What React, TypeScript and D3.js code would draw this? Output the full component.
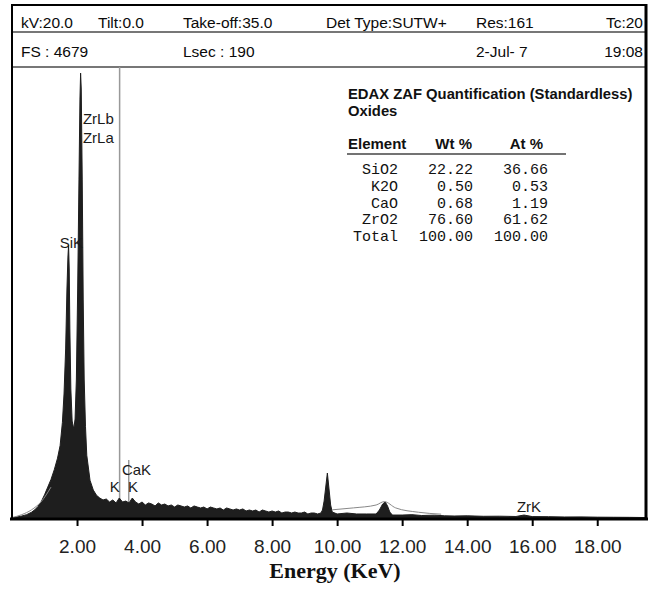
import * as d3 from "d3";
import React, { useEffect, useRef } from "react";

// Header rows of the EDAX printout
const headerRow1 = ["kV:20.0", "Tilt:0.0", "Take-off:35.0", "Det Type:SUTW+", "Res:161", "Tc:20"];
const headerRow2 = ["FS : 4679", "", "Lsec : 190", "", "2-Jul- 7", "19:08"];

// Quantification table
const tableTitle = "EDAX ZAF Quantification (Standardless)";
const tableSubtitle = "Oxides";
const tableHeads = ["Element", "Wt %", "At %"];
const elements = ["SiO2", "K2O", "CaO", "ZrO2", "Total"];
const wtPct = ["22.22", "0.50", "0.68", "76.60", "100.00"];
const atPct = ["36.66", "0.53", "1.19", "61.62", "100.00"];

// Spectrum (keV, counts)
const energy = [
  0.0, 0.15, 0.3, 0.45, 0.6, 0.7, 0.8, 0.9, 1.0, 1.1, 1.2, 1.3, 1.4, 1.48, 1.55, 1.6, 1.65, 1.69, 1.72, 1.74,
  1.76, 1.78, 1.81, 1.85, 1.9, 1.94, 1.98, 2.02, 2.06, 2.09, 2.11, 2.13, 2.16, 2.19, 2.22, 2.26,
  2.3, 2.4, 2.5, 2.6, 2.7, 2.8, 2.9, 3.0, 3.1, 3.2, 3.3, 3.4, 3.5, 3.6, 3.7, 3.8, 3.9,
  4.0, 4.1, 4.2, 4.3, 4.4, 4.5, 4.6, 4.7, 4.8, 4.9, 5.0, 5.1, 5.2, 5.3, 5.4, 5.5, 5.6, 5.7, 5.8, 5.9,
  6.0, 6.1, 6.2, 6.3, 6.4, 6.5, 6.6, 6.7, 6.8, 6.9, 7.0, 7.1, 7.2, 7.3, 7.4, 7.5, 7.6, 7.7, 7.8, 7.9,
  8.0, 8.1, 8.2, 8.3, 8.4, 8.5, 8.6, 8.7, 8.8, 8.9, 9.0, 9.1, 9.2, 9.3, 9.4, 9.5,
  9.55, 9.6, 9.65, 9.7, 9.75, 9.8, 9.85, 10.0, 10.3, 10.6, 10.9, 11.2,
  11.3, 11.4, 11.48, 11.55, 11.62, 11.7, 12.0, 12.3, 12.6, 13.0, 13.3, 13.6, 14.0, 14.5, 15.0, 15.5,
  15.75, 16.0, 16.5, 17.0, 17.5, 18.0, 18.5, 19.0, 19.5,
];
const counts = [
  10, 21, 31, 45, 70, 95, 130, 180, 250, 330, 410, 510, 630, 760, 1000, 1294, 1760, 2381, 2712, 2836,
  2588, 1967, 1346, 1014, 932, 1035, 1449, 2381, 3519, 4347, 4616, 4451, 3519, 2277, 1449, 960,
  660, 400, 300, 245, 217, 197, 207, 176, 197, 166, 217, 176, 186, 166, 217, 176, 155,
  176, 145, 166, 155, 135, 166, 145, 155, 135, 145, 124, 145, 135, 124, 135, 114, 135, 124, 114, 124,
  104, 124, 114, 104, 114, 93, 114, 104, 93, 104, 93, 104, 83, 93, 83, 93, 72, 93, 83, 72,
  83, 72, 83, 62, 72, 72, 62, 72, 62, 62, 72, 52, 62, 62, 52, 62,
  93, 186, 331, 476, 311, 145, 72, 52, 62, 52, 52, 52,
  93, 155, 176, 135, 72, 41, 41, 45, 36, 40, 33, 31, 33, 28, 29, 26,
  41, 25, 24, 21, 22, 19, 18, 17, 15,
];

// Background fit curve (gray line)
const fitEnergy = [0.0, 0.3, 0.6, 0.9, 1.2, 9.85, 10.5, 11.2, 11.45, 11.8, 12.5, 13.2];
const fitCounts = [15, 45, 95, 180, 330, 95, 115, 145, 180, 115, 70, 50];

// Peak labels: text, keV, counts
const peakText = ["ZrLb", "ZrLa", "SiK", "CaK", "K", "K", "ZrK"];
const peakE = [2.18, 2.18, 1.47, 3.38, 3.01, 3.57, 15.53];
const peakC = [4089, 3892, 2805, 455, 280, 280, 72];

// Marker lines: keV, top counts
const markerE = [3.31, 3.59];
const markerTop = [4679, 611];

const xTicks = [2, 4, 6, 8, 10, 12, 14, 16, 18];

export default function App() {
  const svgRef = useRef<SVGSVGElement>(null);

  useEffect(() => {
    const svg = d3.select(svgRef.current);
    svg.selectAll("*").remove();

    const width = 661;
    const height = 589;
    const left = 12;
    const right = 646;
    const top = 5;
    const axisY = 519;
    const plotTop = 67;
    const sans = "'Liberation Sans', Arial, sans-serif";
    const mono = "'Liberation Mono', 'Courier New', monospace";

    svg.append("rect").attr("width", width).attr("height", height).attr("fill", "#fff");

    const x = d3.scaleLinear().domain([0, 19.5]).range([left, right]);
    const y = d3.scaleLinear().domain([0, 4679]).range([axisY, plotTop]);

    // Header
    const hx = [21, 98, 183, 326, 476, 643];
    const row = (items: string[], baseline: number) => {
      items.forEach((t, i) => {
        if (!t) return;
        svg.append("text")
          .attr("x", hx[i])
          .attr("y", baseline)
          .attr("text-anchor", i === items.length - 1 ? "end" : "start")
          .style("font-family", sans)
          .style("font-size", "15.5px")
          .attr("fill", "#0a0a0a")
          .text(t);
      });
    };
    row(headerRow1, 28);
    row(headerRow2, 57);

    svg.append("line").attr("x1", left).attr("x2", right).attr("y1", 32).attr("y2", 32)
      .attr("stroke", "#777").attr("stroke-width", 2);
    svg.append("line").attr("x1", left).attr("x2", right).attr("y1", 67).attr("y2", 67)
      .attr("stroke", "#777").attr("stroke-width", 2);

    // Marker lines
    markerE.forEach((e, i) => {
      svg.append("line")
        .attr("x1", x(e)).attr("x2", x(e))
        .attr("y1", y(markerTop[i])).attr("y2", axisY)
        .attr("stroke", "#999").attr("stroke-width", 1.5);
    });

    // Spectrum
    const data = energy.map((e, i) => ({ e, c: counts[i] }));
    const area = d3.area<{ e: number; c: number }>()
      .x(d => x(d.e))
      .y0(axisY)
      .y1(d => y(d.c));
    svg.append("path")
      .datum(data)
      .attr("fill", "#1e1e1e")
      .attr("stroke", "#1e1e1e")
      .attr("stroke-width", 1)
      .attr("d", area);

    const fit = fitEnergy.map((e, i) => ({ e, c: fitCounts[i] }));
    const fitLine = d3.line<{ e: number; c: number }>()
      .x(d => x(d.e))
      .y(d => y(d.c))
      .curve(d3.curveMonotoneX);
    svg.append("path")
      .datum(fit.slice(0, 5))
      .attr("fill", "none").attr("stroke", "#888").attr("stroke-width", 1)
      .attr("d", fitLine);
    svg.append("path")
      .datum(fit.slice(5))
      .attr("fill", "none").attr("stroke", "#888").attr("stroke-width", 1)
      .attr("d", fitLine);

    // Peak labels
    peakText.forEach((t, i) => {
      svg.append("text")
        .attr("x", x(peakE[i]))
        .attr("y", y(peakC[i]))
        .style("font-family", sans)
        .style("font-size", "15px")
        .attr("fill", "#1a1a1a")
        .text(t);
    });

    // Table
    svg.append("text").attr("x", 348).attr("y", 99)
      .style("font-family", sans).style("font-size", "14.8px").style("font-weight", "bold")
      .attr("fill", "#111").text(tableTitle);
    svg.append("text").attr("x", 348).attr("y", 116)
      .style("font-family", sans).style("font-size", "14.8px").style("font-weight", "bold")
      .attr("fill", "#111").text(tableSubtitle);

    const headX = [348, 472, 543];
    tableHeads.forEach((t, i) => {
      svg.append("text").attr("x", headX[i]).attr("y", 149)
        .attr("text-anchor", i === 0 ? "start" : "end")
        .style("font-family", sans).style("font-size", "15px").style("font-weight", "bold")
        .attr("fill", "#111").text(t);
    });
    svg.append("line").attr("x1", 347).attr("x2", 566).attr("y1", 154).attr("y2", 154)
      .attr("stroke", "#444").attr("stroke-width", 1.5);

    const colX = [398, 473, 548];
    elements.forEach((el, i) => {
      const by = 174 + i * 16.8;
      [el, wtPct[i], atPct[i]].forEach((t, j) => {
        svg.append("text").attr("x", colX[j]).attr("y", by)
          .attr("text-anchor", "end")
          .style("font-family", mono).style("font-size", "15px")
          .attr("fill", "#111").text(t);
      });
    });

    // Frame
    svg.append("line").attr("x1", left).attr("x2", right).attr("y1", top).attr("y2", top)
      .attr("stroke", "#000").attr("stroke-width", 2);
    svg.append("line").attr("x1", left).attr("x2", left).attr("y1", top - 1).attr("y2", axisY)
      .attr("stroke", "#000").attr("stroke-width", 2);
    svg.append("line").attr("x1", right).attr("x2", right).attr("y1", top - 1).attr("y2", axisY)
      .attr("stroke", "#000").attr("stroke-width", 3);

    // X axis
    const ax = svg.append("g")
      .attr("transform", `translate(0,${axisY})`)
      .call(d3.axisBottom(x).tickValues(xTicks).tickSize(7).tickPadding(14).tickFormat(d3.format(".2f")));
    ax.select(".domain").remove();
    ax.selectAll(".tick line").attr("stroke", "#000").attr("stroke-width", 2);
    ax.selectAll(".tick text")
      .style("font-family", sans).style("font-size", "19px").attr("fill", "#222");

    svg.append("line").attr("x1", left - 2).attr("x2", right + 2).attr("y1", axisY).attr("y2", axisY)
      .attr("stroke", "#000").attr("stroke-width", 3);

    svg.append("text")
      .attr("x", 335).attr("y", 578)
      .attr("text-anchor", "middle")
      .style("font-family", "'Liberation Serif', 'Times New Roman', serif")
      .style("font-size", "22px").style("font-weight", "bold")
      .attr("fill", "#111")
      .text("Energy (KeV)");
  }, []);

  return (
    <div style={{ position: "absolute", left: 0, top: 0 }}>
      <svg ref={svgRef} width={661} height={589} style={{ display: "block" }}></svg>
    </div>
  );
}
